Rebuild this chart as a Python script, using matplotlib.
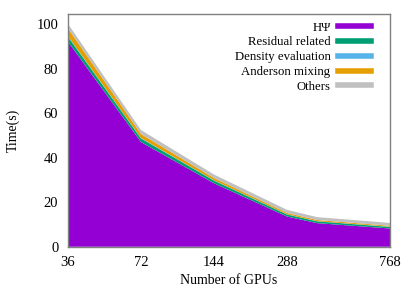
import numpy as np
import matplotlib.pyplot as plt
from matplotlib.lines import Line2D

# GPU counts and time breakdown (s)
gpus = [36, 72, 144, 288, 384, 768]
h_psi = [92.0, 47.0, 28.5, 13.6, 10.6, 8.2]
residual = [2.2, 1.6, 1.2, 0.9, 0.8, 0.7]
density = [0.3, 0.2, 0.15, 0.1, 0.1, 0.1]
anderson = [3.5, 1.8, 1.0, 0.6, 0.5, 0.4]
others = [2.0, 1.8, 1.6, 1.4, 1.3, 1.3]

labels = ['H\u03a8', 'Residual related', 'Density evaluation', 'Anderson mixing', 'Others']
colors = ['#9400d3', '#009e73', '#56b4e9', '#e69f00', '#c0c0c0']
xticks = [36, 72, 144, 288, 768]

plt.rcParams['font.family'] = ['Liberation Serif', 'DejaVu Serif']

fig = plt.figure(figsize=(4.15, 2.91), dpi=100)
ax = fig.add_axes([0.164, 0.152, 0.776, 0.800])

ax.stackplot(gpus, h_psi, residual, density, anderson, others,
             colors=colors, linewidth=0)

ax.set_xscale('log', base=2)
ax.set_xlim(36, 768)
ax.set_xticks(xticks)
ax.set_xticklabels([str(v) for v in xticks])
ax.minorticks_off()
ax.set_ylim(0, 104.5)
ax.set_yticks([0, 20, 40, 60, 80, 100])
ax.tick_params(length=0, labelsize=10.5)
ax.tick_params(axis='y', pad=7)
ax.tick_params(axis='x', pad=7)

for s in ax.spines.values():
    s.set_color('#808080')
    s.set_linewidth(1.0)

ax.set_xlabel('Number of GPUs', fontsize=10, labelpad=3)
ax.set_ylabel('Time(s)', fontsize=10, labelpad=12)

handles = [Line2D([0], [0], color=c, linewidth=4) for c in colors]
ax.legend(handles, labels, loc='upper right', frameon=False, markerfirst=False,
          handlelength=2.6, handletextpad=0.6, labelspacing=0.22,
          borderaxespad=0.2, bbox_to_anchor=(0.966, 1.0), fontsize=9.2)

fig.savefig('out.png', dpi=100)
